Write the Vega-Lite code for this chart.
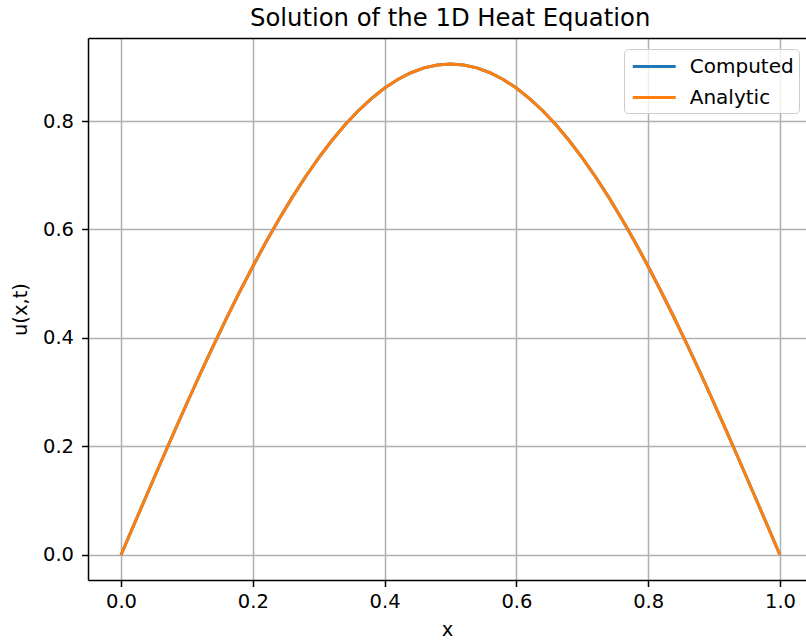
{
  "$schema": "https://vega.github.io/schema/vega-lite/v6.json",
  "autosize": {"type": "none"},
  "width": 718,
  "height": 542,
  "padding": {"left": 88, "top": 38, "right": 0, "bottom": 63},
  "background": "white",
  "title": {"text": "Solution of the 1D Heat Equation", "font": "DejaVu Sans", "fontSize": 24.3, "fontWeight": "normal", "color": "black", "anchor": "start", "frame": "group", "dx": 162, "offset": 7},
  "config": {
    "font": "DejaVu Sans",
    "view": {"stroke": null},
    "axis": {"grid": true, "gridColor": "#b0b0b0", "gridWidth": 1.5, "gridOpacity": 1, "domainColor": "black", "domainWidth": 1.5, "tickColor": "black", "tickSize": 6.5, "tickWidth": 1.5, "labelFontSize": 19.5, "labelColor": "black", "titleFontSize": 19.5, "titleFontWeight": "normal", "titleColor": "black", "labelFont": "DejaVu Sans", "titleFont": "DejaVu Sans"}
  },
  "resolve": {"axis": {"x": "independent"}},
  "datasets": {
    "u": [
      {"x": 0.00, "Computed": 0.0, "Analytic": 0.0},
      {"x": 0.02, "Computed": 0.0568, "Analytic": 0.0568},
      {"x": 0.04, "Computed": 0.1134, "Analytic": 0.1134},
      {"x": 0.06, "Computed": 0.1696, "Analytic": 0.1696},
      {"x": 0.08, "Computed": 0.2251, "Analytic": 0.2251},
      {"x": 0.10, "Computed": 0.2797, "Analytic": 0.2797},
      {"x": 0.12, "Computed": 0.3332, "Analytic": 0.3332},
      {"x": 0.14, "Computed": 0.3853, "Analytic": 0.3853},
      {"x": 0.16, "Computed": 0.4360, "Analytic": 0.4360},
      {"x": 0.18, "Computed": 0.4849, "Analytic": 0.4849},
      {"x": 0.20, "Computed": 0.5319, "Analytic": 0.5319},
      {"x": 0.22, "Computed": 0.5769, "Analytic": 0.5769},
      {"x": 0.24, "Computed": 0.6195, "Analytic": 0.6195},
      {"x": 0.26, "Computed": 0.6597, "Analytic": 0.6597},
      {"x": 0.28, "Computed": 0.6973, "Analytic": 0.6973},
      {"x": 0.30, "Computed": 0.7322, "Analytic": 0.7322},
      {"x": 0.32, "Computed": 0.7641, "Analytic": 0.7641},
      {"x": 0.34, "Computed": 0.7931, "Analytic": 0.7931},
      {"x": 0.36, "Computed": 0.8189, "Analytic": 0.8189},
      {"x": 0.38, "Computed": 0.8414, "Analytic": 0.8414},
      {"x": 0.40, "Computed": 0.8607, "Analytic": 0.8607},
      {"x": 0.42, "Computed": 0.8766, "Analytic": 0.8766},
      {"x": 0.44, "Computed": 0.8890, "Analytic": 0.8890},
      {"x": 0.46, "Computed": 0.8979, "Analytic": 0.8979},
      {"x": 0.48, "Computed": 0.9032, "Analytic": 0.9032},
      {"x": 0.50, "Computed": 0.9050, "Analytic": 0.9050},
      {"x": 0.52, "Computed": 0.9032, "Analytic": 0.9032},
      {"x": 0.54, "Computed": 0.8979, "Analytic": 0.8979},
      {"x": 0.56, "Computed": 0.8890, "Analytic": 0.8890},
      {"x": 0.58, "Computed": 0.8766, "Analytic": 0.8766},
      {"x": 0.60, "Computed": 0.8607, "Analytic": 0.8607},
      {"x": 0.62, "Computed": 0.8414, "Analytic": 0.8414},
      {"x": 0.64, "Computed": 0.8189, "Analytic": 0.8189},
      {"x": 0.66, "Computed": 0.7931, "Analytic": 0.7931},
      {"x": 0.68, "Computed": 0.7641, "Analytic": 0.7641},
      {"x": 0.70, "Computed": 0.7322, "Analytic": 0.7322},
      {"x": 0.72, "Computed": 0.6973, "Analytic": 0.6973},
      {"x": 0.74, "Computed": 0.6597, "Analytic": 0.6597},
      {"x": 0.76, "Computed": 0.6195, "Analytic": 0.6195},
      {"x": 0.78, "Computed": 0.5769, "Analytic": 0.5769},
      {"x": 0.80, "Computed": 0.5319, "Analytic": 0.5319},
      {"x": 0.82, "Computed": 0.4849, "Analytic": 0.4849},
      {"x": 0.84, "Computed": 0.4360, "Analytic": 0.4360},
      {"x": 0.86, "Computed": 0.3853, "Analytic": 0.3853},
      {"x": 0.88, "Computed": 0.3332, "Analytic": 0.3332},
      {"x": 0.90, "Computed": 0.2797, "Analytic": 0.2797},
      {"x": 0.92, "Computed": 0.2251, "Analytic": 0.2251},
      {"x": 0.94, "Computed": 0.1696, "Analytic": 0.1696},
      {"x": 0.96, "Computed": 0.1134, "Analytic": 0.1134},
      {"x": 0.98, "Computed": 0.0568, "Analytic": 0.0568},
      {"x": 1.00, "Computed": 0.0, "Analytic": 0.0}
    ]
  },
  "data": {"name": "u"},
  "layer": [
    {
      "mark": {"type": "line", "strokeWidth": 3, "clip": true},
      "encoding": {
        "x": {"field": "x", "type": "quantitative", "scale": {"domain": [-0.0501, 1.0395], "nice": false, "zero": false}, "axis": {"values": [0, 0.2, 0.4, 0.6, 0.8, 1.0], "format": ".1f", "title": "x", "labelPadding": 6, "titlePadding": 9}},
        "y": {"field": "Computed", "type": "quantitative", "scale": {"domain": [-0.0461, 0.953], "nice": false, "zero": false}, "axis": {"values": [0, 0.2, 0.4, 0.6, 0.8], "format": ".1f", "title": "u(x,t)", "labelPadding": 8, "titlePadding": 12}},
        "color": {"datum": "Computed", "type": "nominal", "scale": {"domain": ["Computed", "Analytic"], "range": ["#1f77b4", "#ff7f0e"]}, "legend": {"title": null, "orient": "none", "legendX": 536, "legendY": 11, "symbolType": "M-2,0H2", "symbolSize": 462, "symbolOffset": 12.75, "symbolStrokeWidth": 3, "labelFontSize": 20, "labelColor": "black", "labelFont": "DejaVu Sans", "labelOffset": 23, "rowPadding": 8, "strokeColor": "#cccccc", "fillColor": "rgba(255,255,255,0.8)", "cornerRadius": 4, "padding": 5}}
      }
    },
    {
      "mark": {"type": "line", "strokeWidth": 3, "clip": true},
      "encoding": {
        "x": {"field": "x", "type": "quantitative", "axis": {"orient": "top", "labels": false, "ticks": false, "grid": false, "title": null, "values": [0, 0.2, 0.4, 0.6, 0.8, 1.0]}},
        "y": {"field": "Analytic", "type": "quantitative"},
        "color": {"datum": "Analytic", "type": "nominal"}
      }
    }
  ]
}
